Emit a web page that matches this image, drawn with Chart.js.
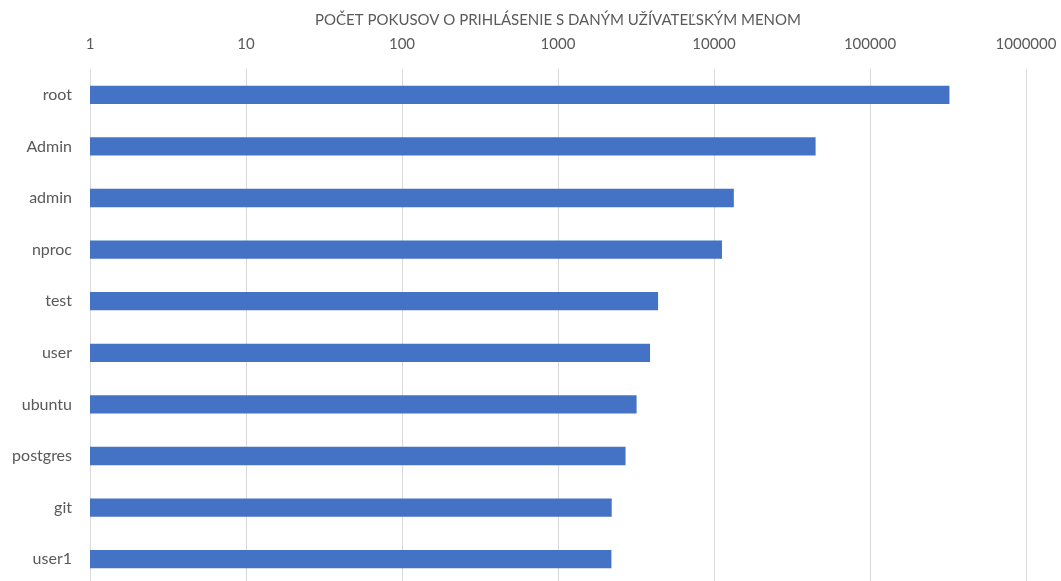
<!DOCTYPE html>
<html>
<head>
<meta charset="utf-8">
<script src="https://cdn.jsdelivr.net/npm/chart.js@4/dist/chart.umd.min.js"></script>
<style>
  html, body { margin: 0; padding: 0; background: #fff; overflow: hidden; }
  #wrap { width: 1061px; height: 581px; overflow: hidden; }
</style>
</head>
<body>
<!-- canvas is a little taller than the frame so the plot runs off the bottom edge -->
<div id="wrap"><canvas id="loginChart" width="1061" height="585"></canvas></div>
<script>
const usernames = ['root', 'Admin', 'admin', 'nproc', 'test', 'user', 'ubuntu', 'postgres', 'git', 'user1'];
const attempts = [323000, 44800, 13400, 11250, 4380, 3890, 3190, 2710, 2210, 2200];
const tickValues = [1, 10, 100, 1000, 10000, 100000, 1000000];
const axisTitle = 'POČET POKUSOV O PRIHLÁSENIE S DANÝM UŽÍVATEĽSKÝM MENOM';

const FONT = "Lato, 'Open Sans', sans-serif";
const TEXT = '#595959';
const GRID = '#d9d9d9';

// keep the plot area fixed: no extra room reserved for edge labels
function noEdgePadding(scale) {
  scale.paddingTop = 0;
  scale.paddingBottom = 0;
  scale.paddingLeft = 0;
  scale.paddingRight = 0;
}

new Chart(document.getElementById('loginChart'), {
  type: 'bar',
  data: {
    labels: usernames,
    datasets: [{
      data: attempts,
      backgroundColor: '#4472C4',
      barPercentage: 0.71,
      categoryPercentage: 0.5
    }]
  },
  options: {
    indexAxis: 'y',
    responsive: false,
    animation: false,
    layout: { padding: { left: 0, right: 35, top: 0, bottom: 0 } },
    plugins: {
      legend: { display: false },
      tooltip: { enabled: false }
    },
    scales: {
      x: {
        type: 'logarithmic',
        position: 'top',
        min: 1,
        max: 1000000,
        afterBuildTicks: (scale) => {
          scale.ticks = tickValues.map(v => ({ value: v }));
        },
        afterFit: (scale) => {
          scale.height = 69;
          noEdgePadding(scale);
        },
        ticks: {
          color: TEXT,
          font: { family: FONT, size: 15 },
          padding: 16,
          maxRotation: 0,
          autoSkip: false,
          callback: (v) => String(v)
        },
        grid: { color: GRID, lineWidth: 1, drawTicks: false },
        border: { display: false },
        title: {
          display: true,
          text: axisTitle,
          color: TEXT,
          font: { family: FONT, size: 15 },
          padding: { top: 11, bottom: 0 }
        }
      },
      y: {
        afterFit: (scale) => {
          scale.width = 90;
          noEdgePadding(scale);
        },
        ticks: {
          color: TEXT,
          font: { family: FONT, size: 16 },
          padding: 18
        },
        grid: { display: false, drawTicks: false },
        border: { display: true, color: GRID, width: 1 }
      }
    }
  }
});
</script>
</body>
</html>
